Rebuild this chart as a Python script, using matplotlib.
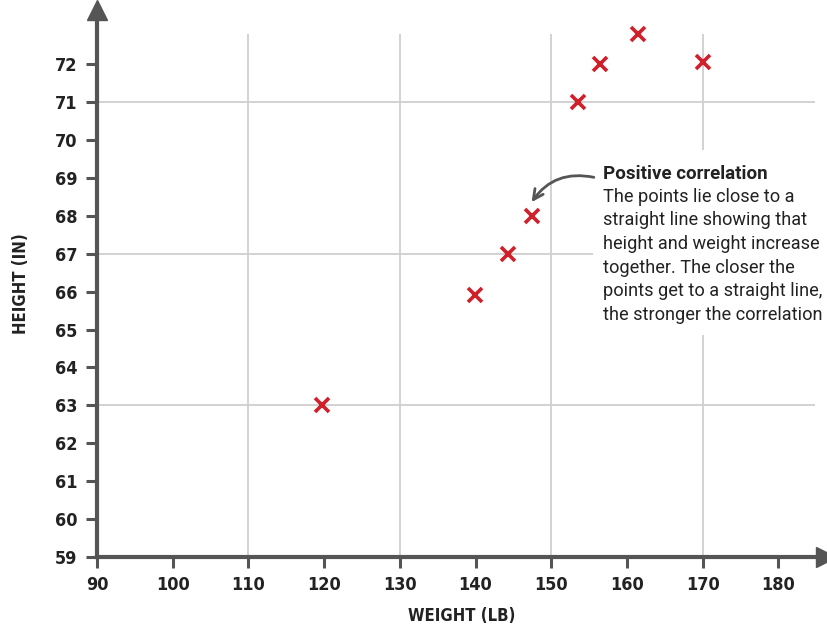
import matplotlib
matplotlib.use('Agg')
import matplotlib.pyplot as plt
from matplotlib.patches import Rectangle

## Data
weight = [119.7, 139.9, 144.3, 147.4, 153.5, 156.5, 161.5, 170.1]
height = [63.0, 65.9, 67.0, 68.0, 71.0, 72.0, 72.8, 72.05]
xticks = list(range(90, 190, 10))
yticks = list(range(59, 73))
xgrid = [110, 130, 150, 170]
ygrid = [63, 67, 71]

axis_col = '#555555'
grid_col = '#cfcfcf'
red = '#d0202a'
cond = ['DejaVu Sans']

fig = plt.figure(figsize=(8.27, 6.27), dpi=100)
ax = fig.add_axes([97/827, 70/627, 729/827, 547/627])
ax.set_xlim(90, 186.3)
ax.set_ylim(59, 73.43)

## Spines / arrows
for s in ['top', 'right']:
    ax.spines[s].set_visible(False)
for s in ['left', 'bottom']:
    ax.spines[s].set_color(axis_col)
    ax.spines[s].set_linewidth(3)
ax.plot(1, 0, marker='>', ms=14, color=axis_col, transform=ax.transAxes, clip_on=False)
ax.plot(0, 1, marker='^', ms=14, color=axis_col, transform=ax.transAxes, clip_on=False)

## Ticks
ax.set_xticks(xticks)
ax.set_yticks(yticks)
ax.tick_params(direction='out', length=8, width=2.2, color=axis_col, pad=6)
for lab in ax.get_xticklabels() + ax.get_yticklabels():
    lab.set_family(cond)
    lab.set_fontweight('bold')
    lab.set_fontstretch('condensed')
    lab.set_fontsize(13)
    lab.set_color('#222222')

## Grid
ax.vlines(xgrid, 59, 72.8, color=grid_col, lw=1.3, zorder=0)
ax.hlines(ygrid, 90, 184.8, color=grid_col, lw=1.3, zorder=0)

## White box behind the note
ax.add_patch(Rectangle((155.5, 64.86), 31, 4.88, facecolor='white', edgecolor='none', zorder=1))

## Note
ax.text(156.8, 69.33, 'Positive correlation', fontsize=13.5, fontweight='bold',
        family='Roboto', color='#222222', va='top', zorder=4)
ax.text(156.8, 68.74, 'The points lie close to a\nstraight line showing that\nheight and weight increase\n'
        'together. The closer the\npoints get to a straight line,\nthe stronger the correlation',
        fontsize=13.1, family='Roboto', color='#222222', va='top', linespacing=1.4, zorder=4)
ax.annotate('', xy=(147.2, 68.3), xytext=(156.0, 69.0),
            arrowprops=dict(arrowstyle='->', color=axis_col, lw=2,
                            connectionstyle='arc3,rad=0.35', mutation_scale=18), zorder=4)

## Points
ax.plot(weight, height, 'x', color=red, ms=10, mew=2.6, zorder=3)

## Axis labels
ax.set_xlabel('WEIGHT (LB)', family=cond, fontweight='bold', fontstretch='condensed',
              fontsize=12, color='#222222', labelpad=9)
ax.set_ylabel('HEIGHT (IN)', family=cond, fontweight='bold', fontstretch='condensed',
              fontsize=12, color='#222222', labelpad=18)

fig.savefig('out.png', dpi=100)
